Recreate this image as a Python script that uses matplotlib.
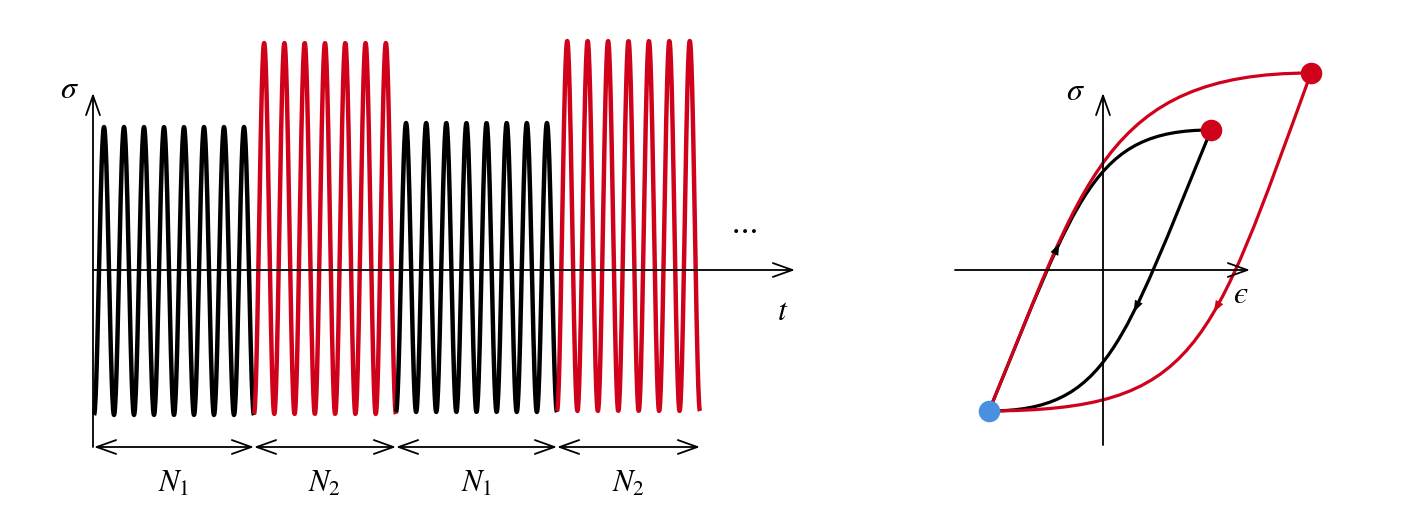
import numpy as np
import matplotlib
matplotlib.use("Agg")
import matplotlib.pyplot as plt
from matplotlib.path import Path
from matplotlib.patches import PathPatch
from matplotlib.bezier import BezierSegment

plt.rcParams["mathtext.fontset"] = "stix"
plt.rcParams["font.family"] = ["STIXGeneral", "DejaVu Serif"]

RED = "#d0021b"
BLUE = "#4a90e2"
BLACK = "#000000"

# ---------- left panel: block loading history ----------
block_labels = [r"$N_1$", r"$N_2$", r"$N_1$", r"$N_2$"]
block_cycles = [8, 7, 8, 7]
block_span = [8.0, 7.1, 8.05, 7.15]          # duration of each block (time units)
block_max = [1.43, 2.27, 1.47, 2.29]
block_min = [-1.45, -1.44, -1.42, -1.41]
block_colors = [BLACK, RED, BLACK, RED]

# ---------- right panel: hysteresis loops (cubic Bezier control points) ----------
point_min = (-1.14, -1.41)
point_small = (1.08, 1.40)
point_large = (2.08, 1.97)
small_up_ctrl = [(-0.25, 0.75), (-0.10, 1.40)]
small_down_ctrl = [(0.19, -0.76), (0.04, -1.41)]
large_up_ctrl = [(-0.20, 0.85), (0.00, 1.97)]
large_down_ctrl = [(1.06, -0.82), (0.95, -1.40)]

W, H = 1404, 532
fig = plt.figure(figsize=(W / 100, H / 100), dpi=100)


def px_axes(x0, x1, y0, y1):
    # axes placed by pixel box (y measured from top)
    return fig.add_axes([x0 / W, (H - y1) / H, (x1 - x0) / W, (y1 - y0) / H])


def arrow(ax, tail, tip, style="->", lw=1.3):
    ax.annotate("", xy=tip, xytext=tail,
                arrowprops=dict(arrowstyle=f"{style},head_length=0.7,head_width=0.25",
                                lw=lw, color=BLACK, mutation_scale=20,
                                shrinkA=0, shrinkB=0))


# left axes: 1 time unit = 20 px, 1 stress unit = 100 px
axL = px_axes(40, 840, 10, 522)
axL.set_xlim((40 - 94) / 20, (840 - 94) / 20)
axL.set_ylim((270 - 522) / 100, (270 - 10) / 100)
axL.axis("off")

arrow(axL, (-0.05, 0), (35.05, 0))
arrow(axL, (-0.05, -1.77), (-0.05, 1.77))

start = 0.0
bounds = [start]
for n, span, hi, lo, c in zip(block_cycles, block_span, block_max, block_min, block_colors):
    t = np.linspace(start, start + span, 60 * n)
    mid, amp = (hi + lo) / 2, (hi - lo) / 2
    s = mid - amp * np.cos(2 * np.pi * n * (t - start) / span)
    axL.plot(t, s, color=c, lw=3.2, solid_capstyle="butt")
    start += span
    bounds.append(start)

for a, b, lab in zip(bounds[:-1], bounds[1:], block_labels):
    arrow(axL, (a, -1.77), (b, -1.77), style="<->")
    axL.text((a + b) / 2, -2.14, lab, fontsize=22, ha="center", va="center")

axL.text(-1.2, 1.80, r"$\sigma$", fontsize=23, ha="center", va="center")
axL.text(34.45, -0.42, r"$t$", fontsize=23, ha="center", va="center")
axL.text(32.45, 0.40, r"$\cdots$", fontsize=22, ha="center", va="center")

# right axes: 1 unit = 100 px
axR = px_axes(900, 1380, 10, 522)
axR.set_xlim((900 - 1103) / 100, (1380 - 1103) / 100)
axR.set_ylim((270 - 522) / 100, (270 - 10) / 100)
axR.axis("off")

arrow(axR, (-1.48, 0), (1.47, 0))
arrow(axR, (0, -1.75), (0, 1.77))

codes = [Path.MOVETO, Path.CURVE4, Path.CURVE4, Path.CURVE4]


def branch(p0, ctrl, p1, color, arrow_t=None):
    pts = np.array([p0, ctrl[0], ctrl[1], p1])
    axR.add_patch(PathPatch(Path(pts, codes), facecolor="none", edgecolor=color,
                            lw=2.3, capstyle="round"))
    if arrow_t is not None:
        seg = BezierSegment(pts)
        tip = seg.point_at_t(arrow_t)
        tail = seg.point_at_t(arrow_t - 0.02)
        axR.annotate("", xy=tip, xytext=tail,
                     arrowprops=dict(arrowstyle="-|>,head_length=0.6,head_width=0.22",
                                     lw=0, color=color, mutation_scale=14,
                                     shrinkA=0, shrinkB=0))


branch(point_min, small_up_ctrl, point_small, BLACK, arrow_t=0.33)
branch(point_small, small_down_ctrl, point_min, BLACK, arrow_t=0.37)
branch(point_min, large_up_ctrl, point_large, RED)
branch(point_large, large_down_ctrl, point_min, RED, arrow_t=0.40)

axR.plot(*point_small, "o", color=RED, ms=14.5, zorder=5)
axR.plot(*point_large, "o", color=RED, ms=14.5, zorder=5)
axR.plot(*point_min, "o", color=BLUE, ms=14.5, zorder=5)

axR.text(-0.27, 1.78, r"$\sigma$", fontsize=23, ha="center", va="center")
axR.text(1.38, -0.25, r"$ϵ$", fontsize=23, ha="center", va="center")

fig.savefig("out.png", dpi=100)
